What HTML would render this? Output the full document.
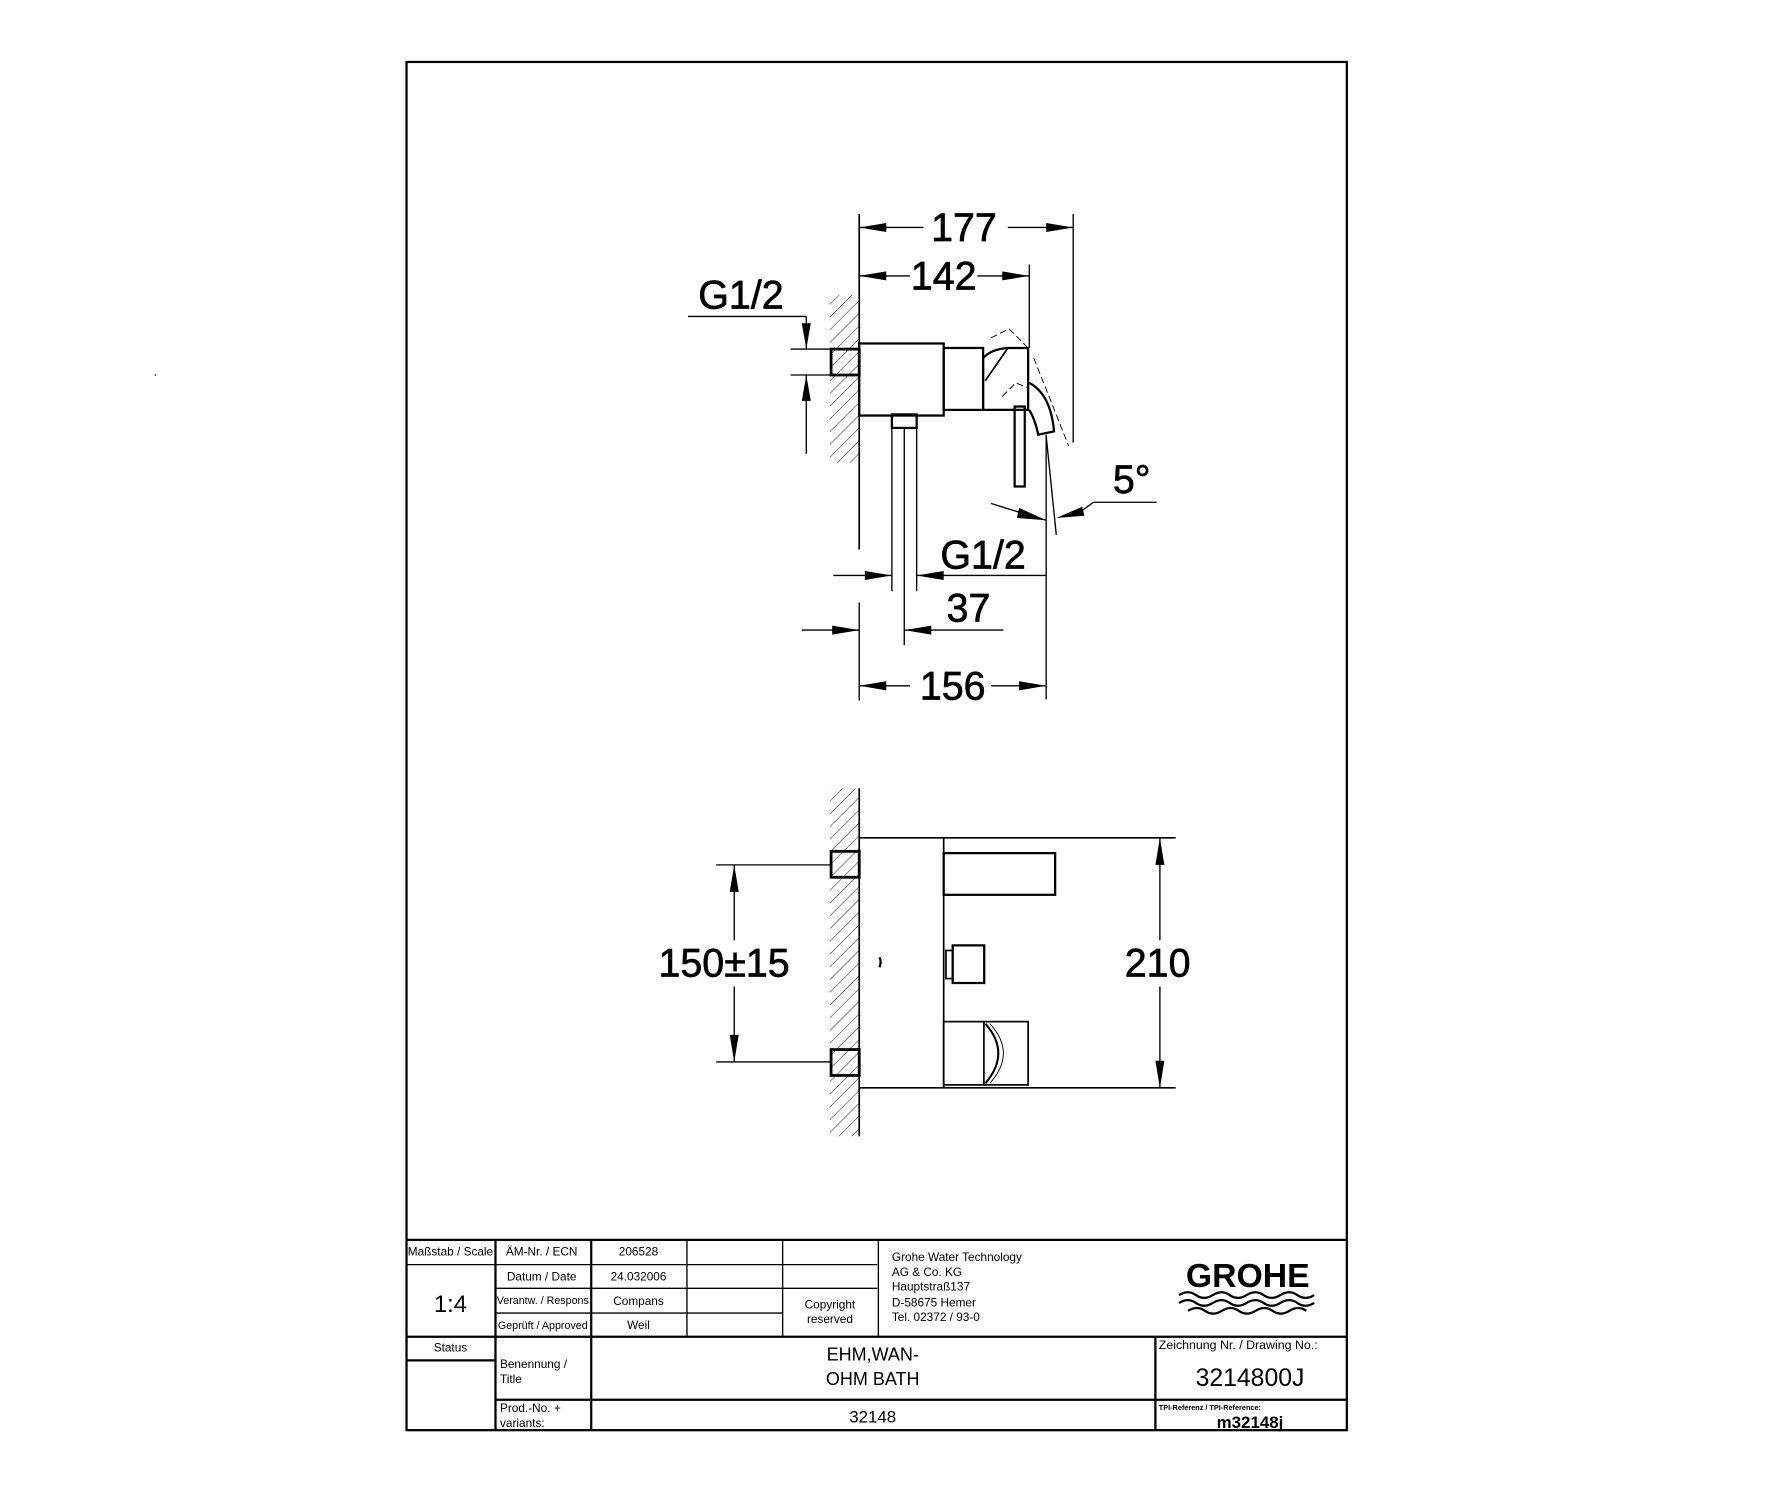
<!DOCTYPE html>
<html><head><meta charset="utf-8"><style>
html,body{margin:0;padding:0;background:#fff;}
svg{display:block;}
text{font-family:"Liberation Sans",sans-serif;fill:#000;}
.d{font-size:35px;text-anchor:middle;stroke:#000;stroke-width:0.6;}
.s{font-size:10.5px;}
.c{text-anchor:middle;}
</style></head><body>
<svg width="1768" height="1500" viewBox="0 0 1570 1332" xmlns="http://www.w3.org/2000/svg">
<defs>
<pattern id="h" patternUnits="userSpaceOnUse" width="8" height="8" patternTransform="rotate(45)">
<line x1="0" y1="0" x2="0" y2="8" stroke="#000" stroke-width="0.8"/>
</pattern>
</defs>
<rect x="0" y="0" width="1570" height="1332" fill="#fff"/>
<circle cx="138" cy="333" r="0.7" fill="#000"/>
<!-- frame -->
<rect x="361" y="55" width="835" height="1215" fill="none" stroke="#000" stroke-width="2"/>

<g stroke="#000" fill="none" stroke-width="1.2">
<!-- TOP VIEW -->
<rect x="737" y="262" width="26" height="149" fill="url(#h)" stroke="none"/>
<line x1="763" y1="190" x2="763" y2="488" stroke-width="1.5"/>
<line x1="953" y1="190" x2="953" y2="393"/>
<line x1="763" y1="202" x2="820" y2="202"/><line x1="895" y1="202" x2="953" y2="202"/>
<line x1="914" y1="235" x2="914" y2="309"/>
<line x1="763" y1="245" x2="808" y2="245"/><line x1="868" y1="245" x2="914" y2="245"/>
<line x1="611" y1="281" x2="716" y2="281"/><line x1="716" y1="281" x2="716" y2="310"/>
<line x1="702" y1="310" x2="738" y2="310"/><line x1="702" y1="333" x2="738" y2="333"/>
<line x1="716" y1="333" x2="716" y2="403"/>
<rect x="738" y="310" width="25" height="23" stroke-width="2.5"/>
<rect x="763" y="305" width="75" height="64" stroke-width="2"/>
<rect x="838" y="309" width="35" height="55" stroke-width="2"/>
<path d="M873,318 Q880,310 895,309 L913,309 L913,364 L873,364 Z" stroke-width="2"/>
<line x1="875" y1="338" x2="895" y2="309" stroke-width="1.5"/>
<path d="M880,300 L896,292 L912,308 M890,352 L902,340 L912,344 M918,318 L949,396" stroke-dasharray="6,3" stroke-width="0.8"/>
<path d="M914,340 Q933,350 936,383 L922,386 Q919,372 914,364" stroke-width="2"/>
<rect x="901" y="361" width="9" height="71" stroke-width="2"/>
<rect x="792" y="368" width="22" height="12" stroke-width="2"/>
<line x1="792" y1="380" x2="792" y2="525"/><line x1="803" y1="380" x2="803" y2="573"/><line x1="814" y1="380" x2="814" y2="525"/>
<line x1="929" y1="386" x2="929" y2="621"/>
<line x1="929" y1="387" x2="938" y2="475"/>
<path d="M880,447 Q905,455 929,462"/>
<polyline points="960,454 971,446 1027,446"/>
<line x1="740" y1="511" x2="792" y2="511"/><line x1="814" y1="511" x2="929" y2="511"/>
<line x1="712" y1="559.5" x2="763" y2="559.5"/><line x1="803" y1="559.5" x2="891" y2="559.5"/>
<line x1="763" y1="535" x2="763" y2="622"/>
<line x1="763" y1="609" x2="808" y2="609"/><line x1="880" y1="609" x2="929" y2="609"/>

<!-- FRONT VIEW -->
<rect x="737" y="700" width="26" height="309" fill="url(#h)" stroke="none"/>
<line x1="763" y1="700" x2="763" y2="1009" stroke-width="1.5"/>
<line x1="763" y1="744" x2="1044" y2="744" stroke-width="1.5"/>
<line x1="763" y1="966" x2="1044" y2="966" stroke-width="1.5"/>
<line x1="838" y1="744" x2="838" y2="966" stroke-width="1.5"/>
<rect x="838" y="757.6" width="99" height="37" stroke-width="2"/>
<rect x="846" y="839.5" width="28" height="33.4" stroke-width="2"/>
<rect x="840" y="844" width="6" height="25" stroke-width="1.5"/>
<rect x="838" y="907.2" width="75" height="56.2" stroke-width="1.5"/>
<line x1="873.7" y1="907.2" x2="873.7" y2="963.4" stroke-width="1.5"/>
<path d="M875,909 Q898,935 875,962" stroke-width="1.8"/>
<path d="M879,909 Q903,935 879,962" stroke-width="0.8"/>
<path d="M781,850 q2,4 0,9" stroke-width="2"/>
<rect x="738" y="756" width="25" height="23" stroke-width="2.5"/>
<rect x="738" y="932" width="25" height="23" stroke-width="2.5"/>
<line x1="636" y1="768" x2="738" y2="768"/><line x1="636" y1="943" x2="738" y2="943"/>
<line x1="652" y1="768" x2="652" y2="835"/><line x1="652" y1="876" x2="652" y2="943"/>
<line x1="1030" y1="744" x2="1030" y2="835"/><line x1="1030" y1="876" x2="1030" y2="966"/>

<!-- TITLE BLOCK -->
<g stroke-width="2">
<line x1="361" y1="1101" x2="1196" y2="1101"/>
<line x1="361" y1="1187" x2="1196" y2="1187"/>
<line x1="439" y1="1243" x2="1196" y2="1243"/>
<line x1="361" y1="1123" x2="695" y2="1123" stroke-width="1.2"/>
<line x1="439" y1="1144" x2="779" y2="1144" stroke-width="1.2"/>
<line x1="439" y1="1166" x2="695" y2="1166" stroke-width="1.2"/>
<line x1="695" y1="1123" x2="779" y2="1123" stroke-width="1.2"/>
<line x1="361" y1="1208" x2="439" y2="1208"/>
<line x1="440" y1="1101" x2="440" y2="1270"/>
<line x1="525" y1="1101" x2="525" y2="1270"/>
<line x1="610" y1="1101" x2="610" y2="1187" stroke-width="1.2"/>
<line x1="695" y1="1101" x2="695" y2="1187" stroke-width="1.2"/>
<line x1="780" y1="1101" x2="780" y2="1187" stroke-width="1.2"/>
<line x1="1026" y1="1187" x2="1026" y2="1270"/>
</g>
<path d="M1047,1150 q8,-5 15,0 t15,0 t15,0 t15,0 t15,0 t15,0 t15,0 t15,0 M1047,1157 q8,-5 15,0 t15,0 t15,0 t15,0 t15,0 t15,0 t15,0 t15,0 M1055,1164 q8,-5 15,0 t15,0 t15,0 t15,0 t15,0 t15,0 t15,0" stroke-width="2"/>
</g>

<!-- arrowheads -->
<g fill="#000" stroke="none">
<polygon points="763,202 787,198 787,206"/><polygon points="953,202 929,198 929,206"/>
<polygon points="763,245 787,241 787,249"/><polygon points="914,245 890,241 890,249"/>
<polygon points="716,310 712,287 720,287"/><polygon points="716,333 712,356 720,356"/>
<polygon points="929,462 905,451 903,460"/><polygon points="938,460 961,450 963,458"/>
<polygon points="792,511 768,507 768,515"/><polygon points="814,511 838,507 838,515"/>
<polygon points="763,559.5 739,555.5 739,563.5"/><polygon points="803,559.5 827,555.5 827,563.5"/>
<polygon points="763,609 787,605 787,613"/><polygon points="929,609 905,605 905,613"/>
<polygon points="652,768 648,792 656,792"/><polygon points="652,943 648,919 656,919"/>
<polygon points="1030,744 1026,768 1034,768"/><polygon points="1030,966 1026,942 1034,942"/>
</g>

<!-- dimension text -->
<text class="d" x="856" y="214">177</text>
<text class="d" x="838" y="257">142</text>
<text class="d" x="658" y="274">G1/2</text>
<text class="d" x="1005" y="438">5°</text>
<text class="d" x="873" y="505">G1/2</text>
<text class="d" x="860" y="552">37</text>
<text class="d" x="846" y="621">156</text>
<text class="d" x="643" y="867">150±15</text>
<text class="d" x="1028" y="867">210</text>

<!-- title block text -->
<text class="s c" x="400" y="1115" font-size="10">Maßstab / Scale</text>
<text class="c" x="400" y="1165" font-size="21">1:4</text>
<text class="s c" x="481" y="1115">ÄM-Nr. / ECN</text>
<text class="s c" x="481" y="1137">Datum / Date</text>
<text class="c" x="482" y="1158" font-size="9.5">Verantw. / Respons</text>
<text class="c" x="482" y="1180" font-size="9.5">Geprüft / Approved</text>
<text class="s c" x="567" y="1115">206528</text>
<text class="s c" x="567" y="1137">24.032006</text>
<text class="s c" x="567" y="1159">Compans</text>
<text class="s c" x="567" y="1180">Weil</text>
<text class="s c" x="737" y="1162">Copyright</text>
<text class="s c" x="737" y="1175">reserved</text>
<text class="s" x="792" y="1120">Grohe Water Technology</text>
<text class="s" x="792" y="1133">AG &amp; Co. KG</text>
<text class="s" x="792" y="1146">Hauptstraß137</text>
<text class="s" x="792" y="1160">D-58675 Hemer</text>
<text class="s" x="792" y="1173">Tel. 02372 / 93-0</text>
<text class="c" x="1108" y="1143" font-size="30" font-weight="bold">GROHE</text>
<text class="s c" x="400" y="1200">Status</text>
<text class="s" x="444" y="1215">Benennung /</text>
<text class="s" x="444" y="1228">Title</text>
<text class="s" x="444" y="1254">Prod.-No. +</text>
<text class="s" x="444" y="1267">variants:</text>
<text class="c" x="775" y="1208" font-size="16">EHM,WAN-</text>
<text class="c" x="775" y="1230" font-size="16">OHM BATH</text>
<text class="c" x="775" y="1263" font-size="15">32148</text>
<text x="1029" y="1198" font-size="11">Zeichnung Nr. / Drawing No.:</text>
<text class="c" x="1110" y="1231" font-size="22">3214800J</text>
<text x="1029" y="1252" font-size="6.5" font-weight="bold">TPI-Referenz / TPI-Reference:</text>
<text class="c" x="1110" y="1268" font-size="15" font-weight="bold">m32148j</text>
</svg>
</body></html>
